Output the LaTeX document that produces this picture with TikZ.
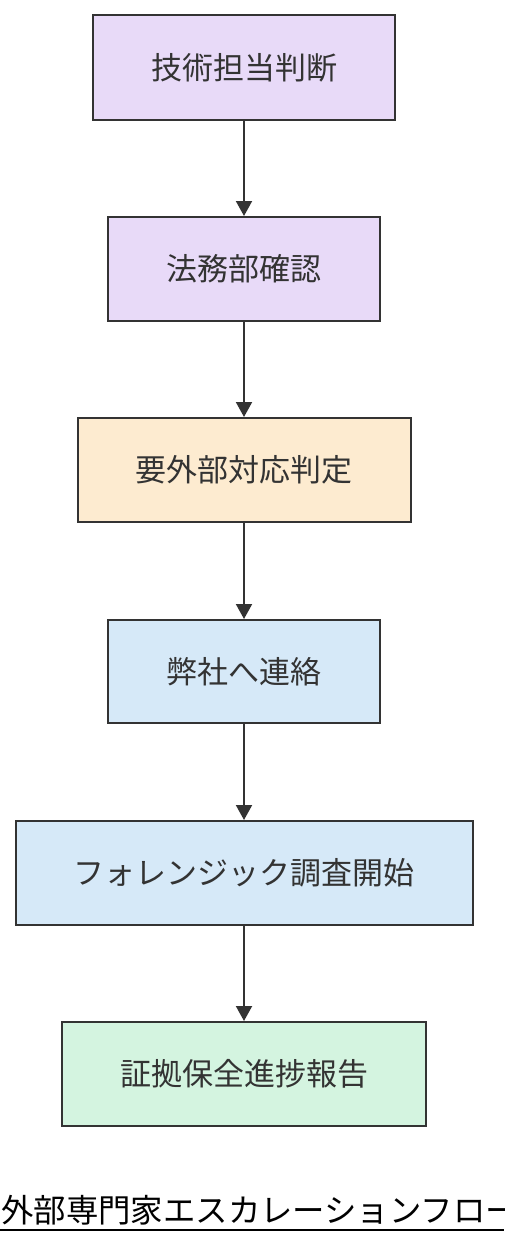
\documentclass[tikz,border=0pt]{standalone}
\usepackage{fontspec}
\newfontfamily\cjk{Noto Sans CJK JP}
\usetikzlibrary{arrows.meta}
\definecolor{cpurple}{RGB}{232,218,248}
\definecolor{corange}{RGB}{253,235,208}
\definecolor{cblue}{RGB}{214,233,248}
\definecolor{cgreen}{RGB}{212,244,224}
\definecolor{cline}{RGB}{51,51,51}
\begin{document}
\begin{tikzpicture}[x=1pt,y=-1pt,
  box/.style={draw=cline,line width=2pt,rectangle,inner sep=0pt,font=\cjk\fontsize{31}{34}\selectfont,text=cline},
  conn/.style={draw=cline,line width=2pt,-{Triangle[length=15pt,width=16pt]}}]
\useasboundingbox (0,0) rectangle (504,1244);
\node[box,fill=cpurple,minimum width=302pt,minimum height=105pt] (a) at (244,67.5) {技術担当判断};
\node[box,fill=cpurple,minimum width=272pt,minimum height=104pt] (b) at (244,269) {法務部確認};
\node[box,fill=corange,minimum width=333pt,minimum height=104pt] (c) at (244,470) {要外部対応判定};
\node[box,fill=cblue,minimum width=272pt,minimum height=103pt] (d) at (244,671.5) {弊社へ連絡};
\node[box,fill=cblue,minimum width=457pt,minimum height=104pt] (e) at (244,873) {フォレンジック調査開始};
\node[box,fill=cgreen,minimum width=364pt,minimum height=104pt] (f) at (244,1074) {証拠保全進捗報告};
\draw[conn] (a) -- (b);
\draw[conn] (b) -- (c);
\draw[conn] (c) -- (d);
\draw[conn] (d) -- (e);
\draw[conn] (e) -- (f);
\begin{scope}
\clip (0,0) rectangle (504,1244);
\node[anchor=base west,inner sep=0pt,font=\cjk\fontsize{32.4}{36}\selectfont] (t) at (1,1222) {外部専門家エスカレーションフロー};
\draw[line width=2pt] (0,1230) -- (504,1230);
\end{scope}
\end{tikzpicture}
\end{document}
